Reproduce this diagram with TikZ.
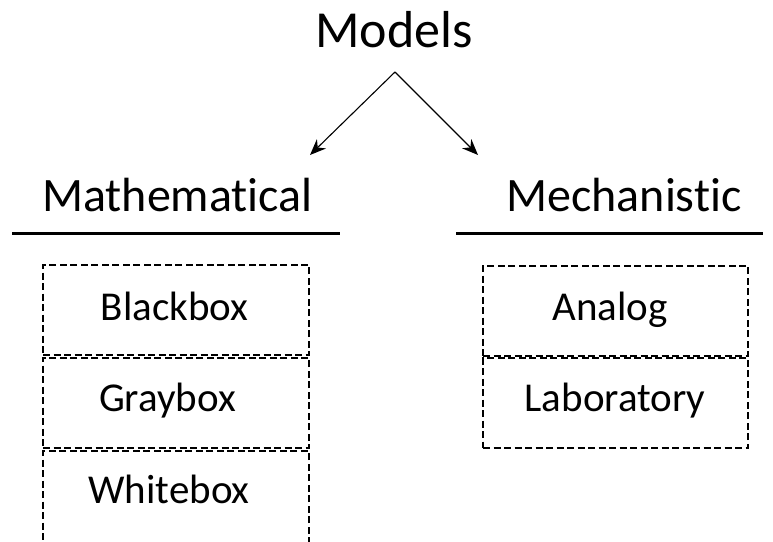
\documentclass[tikz,border=0pt]{standalone}
\usepackage{fontspec}
\setmainfont[Ligatures={NoCommon}]{Carlito}
\usetikzlibrary{arrows.meta}
\begin{document}
\begin{tikzpicture}[x=1pt,y=-1pt,
  title/.style={anchor=base,inner sep=0pt,font=\fontsize{52}{60}\selectfont},
  heading/.style={anchor=base,inner sep=0pt,font=\fontsize{48}{56}\selectfont},
  item/.style={anchor=base,inner sep=0pt,font=\fontsize{41}{48}\selectfont},
  rule/.style={line width=3pt},
  dbox/.style={draw,line width=2pt,dash pattern=on 7pt off 3.5pt,minimum width=265pt,minimum height=90pt,inner sep=0pt},
  arr/.style={line width=1.1pt,-{Stealth[length=16pt,width=13pt]}}
]
\useasboundingbox (0,0) rectangle (773,541);
\clip (0,0) rectangle (773,541);
\node[title] (models) at (394,47) {Models};
\coordinate (apex) at (395,72);
\coordinate (lt) at (310,155);
\coordinate (rt) at (478,155);
\draw[arr] (apex) -- (lt);
\draw[arr] (apex) -- (rt);
\node[heading] (math) at (177.5,211) {Mathematical};
\node[heading] (mech) at (624,211) {Mechanistic};
\coordinate (l1) at (12,233); \coordinate (l2) at (340,233);
\coordinate (r1) at (456,233); \coordinate (r2) at (763,233);
\draw[rule] (l1) -- (l2);
\draw[rule] (r1) -- (r2);
% left boxes
\node[dbox,minimum width=266pt] (bb) at (176,309.5) {};
\node[dbox,minimum width=266pt] (gb) at (176,402.5) {};
\node[dbox,minimum width=266pt,minimum height=100pt] (wb) at (176,501) {};
\node[item] (tbb) at (174.5,320) {Blackbox};
\node[item] (tgb) at (167.5,411) {Graybox};
\node[item] (twb) at (169,503) {Whitebox};
% right boxes
\node[dbox] (an) at (615.5,310.5) {};
\node[dbox] (lab) at (615.5,403) {};
\node[item] (tan) at (610,320) {Analog};
\node[item] (tlab) at (615,411) {Laboratory};
\end{tikzpicture}
\end{document}
